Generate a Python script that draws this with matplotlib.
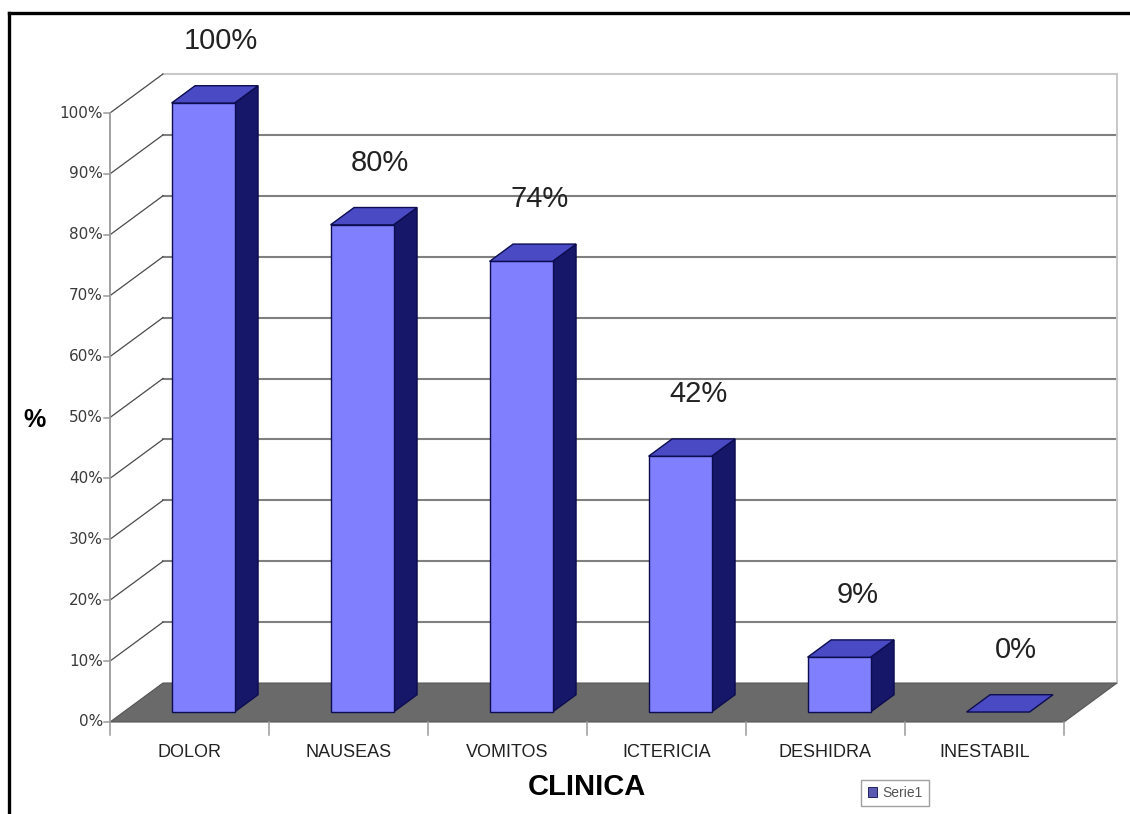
import matplotlib
matplotlib.use("Agg")
import matplotlib.pyplot as plt
from matplotlib.patches import Polygon, Patch
from matplotlib.lines import Line2D

# ---- data ----
categories = ["DOLOR", "NAUSEAS", "VOMITOS", "ICTERICIA", "DESHIDRA", "INESTABIL"]
values = [100, 80, 74, 42, 9, 0]
y_ticks = [0, 10, 20, 30, 40, 50, 60, 70, 80, 90, 100]
y_tick_labels = [f"{t}%" for t in y_ticks]
value_labels = [f"{v}%" for v in values]
series_name = "Serie1"
x_title = "CLINICA"
y_title = "%"

# ---- styling / pseudo-3D geometry ----
FRONT = "#8080ff"
SIDE = "#17176a"
TOP = "#4a4ac4"
EDGE = "#0c0c50"
FLOOR = "#6a6a6a"
GRID = "#808080"
WALL_EDGE = "#c8c8c8"

DX = 0.333   # depth offset along x (category units)
DY = 6.4     # depth offset along y (percent units)
D1, D2 = 0.256, 0.70   # bar front/back depth
HW = 0.198             # half bar width

W, H = 1130, 814
fig = plt.figure(figsize=(W / 100, H / 100), dpi=100)
fig.patch.set_facecolor("white")

# axes: x 0..6 spans px 110..1064, y 0..100 spans px 722..113
ax = fig.add_axes([110 / W, (H - 722) / H, 954 / W, 609 / H])
ax.set_xlim(0, len(categories))
ax.set_ylim(0, 100)
ax.axis("off")


def P(x, y, d):
    return (x + d * DX, y + d * DY)


n = len(categories)

# back wall gridlines
for t in y_ticks[1:]:
    col = WALL_EDGE if t == 100 else GRID
    ax.plot([DX, n + DX], [t + DY, t + DY], color=col, lw=1.5, zorder=1,
            clip_on=False)
# right edge of back wall
ax.plot([n + DX, n + DX], [DY, 100 + DY], color=WALL_EDGE, lw=1.4, zorder=1,
        clip_on=False)

# side-wall diagonals
for t in y_ticks[1:]:
    ax.plot([0, DX], [t, t + DY], color="#4a4a4a", lw=0.9, zorder=2,
            clip_on=False)

# floor
floor = Polygon([P(0, 0, 0), P(n, 0, 0), P(n, 0, 1), P(0, 0, 1)],
                closed=True, facecolor=FLOOR, edgecolor="#555555", lw=0.8,
                zorder=3, clip_on=False)
ax.add_patch(floor)

# front value axis
ax.plot([0, 0], [0, 100], color="#9a9a9a", lw=1.3, zorder=4, clip_on=False)
for t, lab in zip(y_ticks, y_tick_labels):
    ax.plot([-0.035, 0], [t, t], color="#9a9a9a", lw=1.1, zorder=4,
            clip_on=False)
    ax.text(-0.045, t, lab, ha="right", va="center", fontsize=11,
            color="#3a3a3a", family="DejaVu Sans", clip_on=False)

# category ticks and labels
for k in range(n + 1):
    ax.plot([k, k], [0, -2.2], color="#9a9a9a", lw=1.1, zorder=4,
            clip_on=False)
for i, cat in enumerate(categories):
    ax.text(i + 0.5, -5.0, cat, ha="center", va="center", fontsize=13,
            color="#222222", family="Liberation Sans", clip_on=False)

# bars
for i, v in enumerate(values):
    xc = i + 0.5
    xl, xr = xc - HW, xc + HW
    top = [P(xl, v, D1), P(xr, v, D1), P(xr, v, D2), P(xl, v, D2)]
    if v > 0:
        front = [P(xl, 0, D1), P(xr, 0, D1), P(xr, v, D1), P(xl, v, D1)]
        side = [P(xr, 0, D1), P(xr, 0, D2), P(xr, v, D2), P(xr, v, D1)]
        ax.add_patch(Polygon(side, closed=True, facecolor=SIDE, edgecolor=EDGE,
                             lw=1.0, zorder=5, clip_on=False))
        ax.add_patch(Polygon(front, closed=True, facecolor=FRONT,
                             edgecolor=EDGE, lw=1.0, zorder=6, clip_on=False))
    ax.add_patch(Polygon(top, closed=True, facecolor=TOP, edgecolor=EDGE,
                         lw=1.0, zorder=6, clip_on=False))

# value labels
for i, (v, lab) in enumerate(zip(values, value_labels)):
    ax.text(i + 0.5 + 0.2, v + 11.8, lab, ha="center", va="center",
            fontsize=21, color="#222222", family="Liberation Sans",
            clip_on=False, zorder=7)

# axis titles
fig.text(35 / W, 1 - 420 / H, y_title, ha="center", va="center", fontsize=18,
         fontweight="bold", family="Liberation Sans")
fig.text(587 / W, 1 - 787 / H, x_title, ha="center", va="center",
         fontsize=21, fontweight="bold", family="Liberation Sans")

# legend
leg = fig.legend(handles=[Patch(facecolor="#5a5ab0", edgecolor=EDGE, lw=0.6)],
                 labels=[series_name], loc="center",
                 bbox_to_anchor=(895 / W, 1 - 793 / H),
                 frameon=True, fancybox=False, edgecolor="#888888",
                 handlelength=0.7, handleheight=0.7, borderpad=0.45,
                 handletextpad=0.35, labelcolor="#555555",
                 prop={"family": "Liberation Sans", "size": 10})
leg.get_frame().set_linewidth(1.0)

# outer frame (left and top edges)
fig.add_artist(Line2D([9 / W, 9 / W], [0, 1 - 13 / H], color="black", lw=2.4,
                      transform=fig.transFigure))
fig.add_artist(Line2D([9 / W, 1], [1 - 13 / H, 1 - 13 / H], color="black",
                      lw=2.4, transform=fig.transFigure))

fig.savefig("out.png", dpi=100, facecolor="white")
